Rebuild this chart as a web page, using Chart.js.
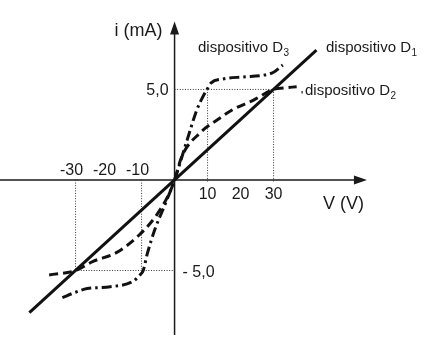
<!DOCTYPE html>
<html>
<head>
<meta charset="utf-8">
<script src="https://cdn.jsdelivr.net/npm/chart.js@4.4.1/dist/chart.umd.min.js"></script>
<style>
  html, body { margin: 0; padding: 0; background: #fff; }
  canvas { display: block; }
</style>
</head>
<body>
<canvas id="ivChart" width="428" height="344"></canvas>
<script>
// V (V) / i (mA) pairs for each device
const d1V = [-44, 43];
const d1I = [-7.33, 7.17];

const d2V = [-38, -30, -24.7, -17.5, -10.5, -5.3, -1.4, 0, 2.2, 7.7, 12.8, 17.8, 23.8, 30, 33, 37];
const d2I = [-5.25, -5, -4.5, -4.0, -3.0, -1.9, -0.66, 0, 1.3, 2.6, 3.3, 3.9, 4.4, 5, 5.08, 5.15];

const d3V = [-34, -30, -26.5, -19.5, -12.6, -10.5, -9.5, -8.3, -5.9, -3, 0, 3.8, 6.8, 8.6, 10, 11, 14.7, 20.8, 26.8, 30, 32.8];
const d3I = [-6.5, -6.2, -6.0, -5.9, -5.6, -5.25, -5.0, -4.1, -2.7, -1.4, 0, 2.2, 3.9, 4.6, 5.05, 5.35, 5.58, 5.69, 5.78, 5.95, 6.35];

// reference levels for the dotted guides
const guideI = [5, -5];
const guideVpos = [10, 30];
const guideVneg = [-30, -10];

// axis tick labels
const xTicksNeg = [-30, -20, -10];
const xTicksPos = [10, 20, 30];
const yTickLabels = ['5,0', '- 5,0'];

const pts = (vs, is) => vs.map((v, k) => ({x: v, y: is[k]}));

function guides() {
  const sets = [];
  const g = (data) => sets.push({
    data, showLine: true, borderColor: '#333', borderWidth: 1,
    borderDash: [1, 1.6], pointRadius: 0, tension: 0
  });
  g([{x: 0, y: guideI[0]}, {x: guideVpos[1], y: guideI[0]}]);
  guideVpos.forEach(v => g([{x: v, y: guideI[0]}, {x: v, y: -0.1}]));
  g([{x: guideVneg[0], y: guideI[1]}, {x: 0, y: guideI[1]}]);
  guideVneg.forEach(v => g([{x: v, y: 0}, {x: v, y: guideI[1]}]));
  return sets;
}

const curve = (data, dash) => ({
  data, showLine: true, borderColor: '#111', borderWidth: 3,
  borderDash: dash, borderCapStyle: 'butt', pointRadius: 0,
  cubicInterpolationMode: 'monotone'
});

const FONT = '"Liberation Sans", Arial, sans-serif';

const axisDecor = {
  id: 'axisDecor',
  beforeDatasetsDraw(chart) {
    const {ctx, scales: {x, y}} = chart;
    const x0 = x.getPixelForValue(0), y0 = y.getPixelForValue(0);
    const xe = x.getPixelForValue(58.3), yt = y.getPixelForValue(8.75);
    const yb = y.getPixelForValue(-8.56);
    ctx.save();
    ctx.strokeStyle = '#1a1a1a';
    ctx.fillStyle = '#1a1a1a';
    ctx.lineWidth = 1.5;
    ctx.beginPath();
    ctx.moveTo(0, y0); ctx.lineTo(xe - 10, y0);
    ctx.moveTo(x0, yb); ctx.lineTo(x0, yt + 10);
    ctx.stroke();
    // arrow heads
    ctx.beginPath();
    ctx.moveTo(xe, y0); ctx.lineTo(xe - 13, y0 - 4.5); ctx.lineTo(xe - 13, y0 + 4.5);
    ctx.closePath(); ctx.fill();
    ctx.beginPath();
    ctx.moveTo(x0, yt); ctx.lineTo(x0 - 4.5, yt + 13); ctx.lineTo(x0 + 4.5, yt + 13);
    ctx.closePath(); ctx.fill();
    ctx.restore();
  },
  afterDatasetsDraw(chart) {
    const {ctx, scales: {x, y}} = chart;
    const x0 = x.getPixelForValue(0), y0 = y.getPixelForValue(0);
    ctx.save();
    ctx.fillStyle = '#1a1a1a';
    ctx.textBaseline = 'alphabetic';

    ctx.font = '16px ' + FONT;
    ctx.textAlign = 'center';
    xTicksNeg.forEach(v => ctx.fillText(String(v), x.getPixelForValue(v) - 4, y0 - 5));
    xTicksPos.forEach(v => ctx.fillText(String(v), x.getPixelForValue(v), y0 + 19));
    ctx.textAlign = 'right';
    ctx.fillText(yTickLabels[0], x0 - 6, y.getPixelForValue(guideI[0]) + 6);
    ctx.textAlign = 'left';
    ctx.fillText(yTickLabels[1], x0 + 8, y.getPixelForValue(guideI[1]) + 7);

    ctx.font = '18px ' + FONT;
    ctx.textAlign = 'right';
    ctx.fillText('i (mA)', x0 - 12, 36);
    ctx.textAlign = 'left';
    ctx.fillText('V (V)', 323, 209);

    const devLabel = (sub, lx, ly) => {
      ctx.font = '15px ' + FONT;
      ctx.textAlign = 'left';
      const main = 'dispositivo D';
      ctx.fillText(main, lx, ly);
      const w = ctx.measureText(main).width;
      ctx.font = '10px ' + FONT;
      ctx.fillText(sub, lx + w + 0.5, ly + 4);
    };
    devLabel('3', 198, 52);
    devLabel('1', 326, 52);
    devLabel('2', 305, 95);
    // little leader mark beside the D2 label
    ctx.fillRect(301.5, 91, 1.2, 2.5);
    ctx.restore();
  }
};

const chart = new Chart(document.getElementById('ivChart'), {
  type: 'scatter',
  data: {
    datasets: [
      curve(pts(d1V, d1I), []),
      curve(pts(d2V, d2I), [9, 5]),
      curve(pts(d3V, d3I), [10, 4, 2.5, 4]),
      ...guides()
    ]
  },
  options: {
    responsive: false,
    devicePixelRatio: 1,
    animation: false,
    layout: {padding: 0},
    plugins: {legend: {display: false}, tooltip: {enabled: false}},
    scales: {
      x: {type: 'linear', display: false, min: -52.9, max: 76.8},
      y: {type: 'linear', display: false, min: -9.06, max: 9.94}
    }
  },
  plugins: [axisDecor]
});
</script>
</body>
</html>
